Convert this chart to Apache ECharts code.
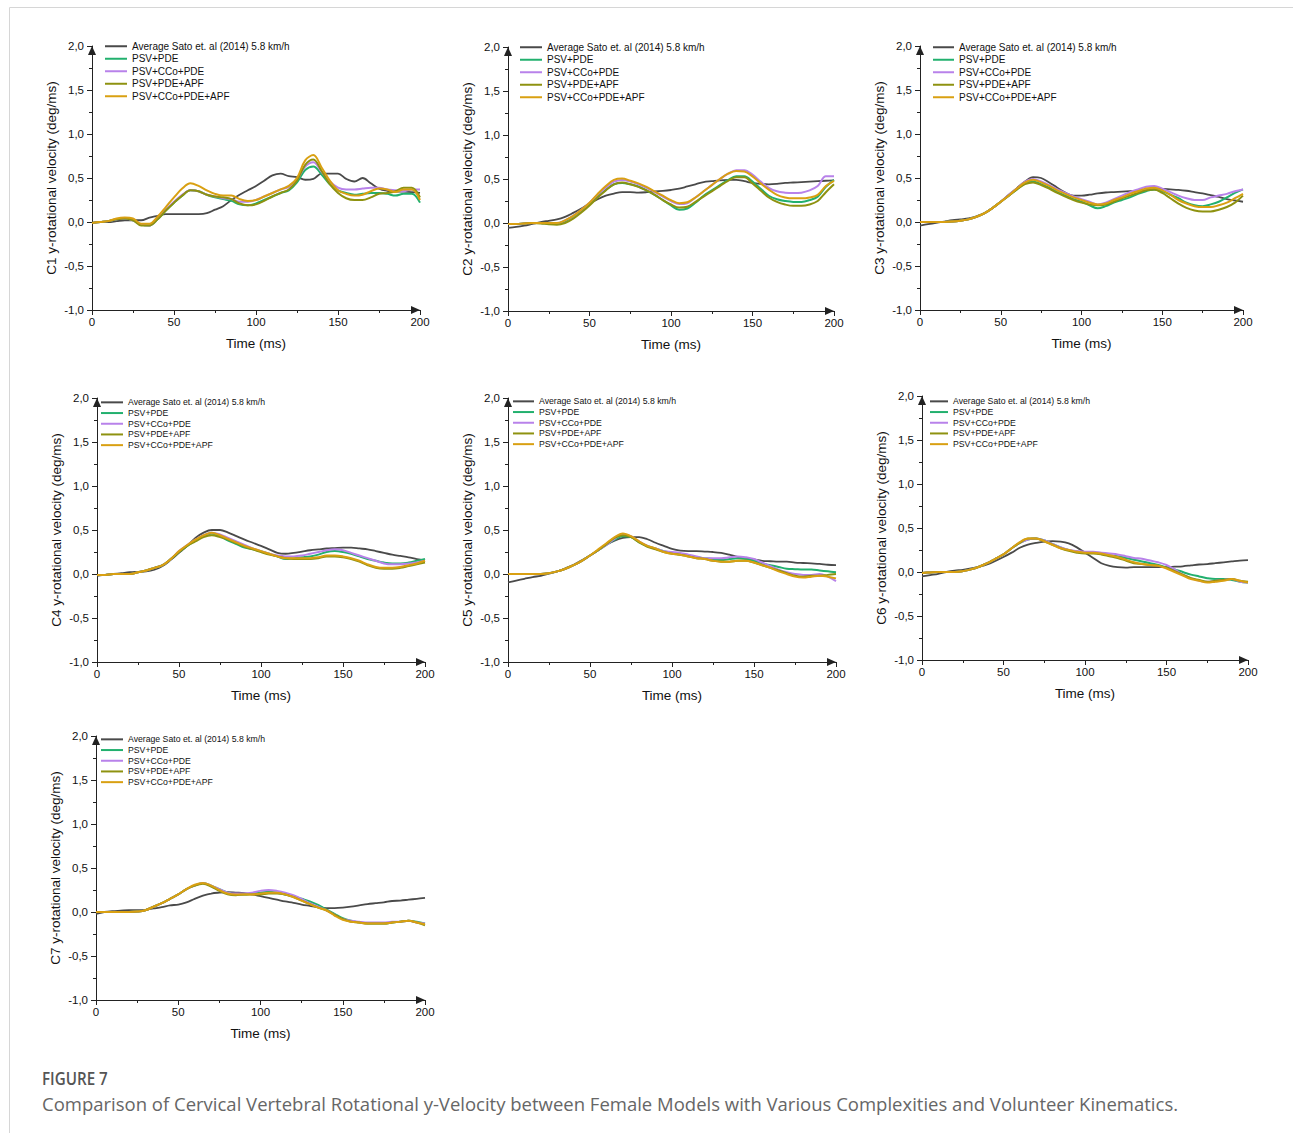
<!DOCTYPE html>
<html><head><meta charset="utf-8">
<script src="https://cdn.jsdelivr.net/npm/echarts@6/dist/echarts.min.js"></script>
<style>html,body{margin:0;padding:0;background:#fff;}#c{width:1293px;height:1133px;}</style>
</head><body><div id="c"></div>
<script>
// ---------- DATA ----------
const T = [0,5,10,15,20,25,30,35,40,45,50,55,60,65,70,75,80,85,90,95,100,105,110,115,120,125,130,135,140,145,150,155,160,165,170,175,180,185,190,195,200];
const SERIES_NAMES = ['Average Sato et. al (2014) 5.8 km/h','PSV+PDE','PSV+CCo+PDE','PSV+PDE+APF','PSV+CCo+PDE+APF'];
const PANEL_LABELS = ['C1','C2','C3','C4','C5','C6','C7'];
const X_NAME = 'Time (ms)';
const Y_NAME_SUFFIX = ' y-rotational velocity (deg/ms)';
const CAPTION_TITLE = 'FIGURE 7';
const CAPTION_TEXT = 'Comparison of Cervical Vertebral Rotational y-Velocity between Female Models with Various Complexities and Volunteer Kinematics.';

const C1_SATO = [-0.01,0.0,0.0,0.01,0.02,0.02,0.02,0.05,0.07,0.09,0.09,0.09,0.09,0.09,0.1,0.14,0.18,0.25,0.31,0.36,0.41,0.47,0.53,0.55,0.52,0.51,0.48,0.49,0.55,0.55,0.55,0.49,0.46,0.5,0.44,0.38,0.355,0.345,0.345,0.34,0.33];
const C1_PDE = [-0.01,0.0,0.01,0.03,0.04,0.02,-0.03,-0.04,0.03,0.13,0.22,0.3,0.36,0.35,0.31,0.28,0.26,0.24,0.2,0.19,0.21,0.25,0.29,0.33,0.36,0.45,0.59,0.63,0.54,0.43,0.36,0.33,0.31,0.32,0.33,0.33,0.32,0.3,0.32,0.32,0.22];
const C1_CCO_PDE = [-0.01,0.0,0.01,0.03,0.04,0.02,-0.03,-0.04,0.04,0.14,0.23,0.31,0.36,0.35,0.31,0.29,0.27,0.26,0.23,0.23,0.25,0.29,0.33,0.37,0.4,0.48,0.63,0.68,0.57,0.46,0.39,0.37,0.37,0.38,0.39,0.39,0.37,0.36,0.35,0.37,0.37];
const C1_PDE_APF = [-0.01,0.0,0.01,0.03,0.04,0.02,-0.04,-0.04,0.03,0.13,0.22,0.3,0.36,0.35,0.31,0.29,0.28,0.26,0.21,0.19,0.2,0.24,0.29,0.33,0.37,0.47,0.65,0.71,0.58,0.43,0.33,0.27,0.25,0.25,0.28,0.32,0.33,0.35,0.39,0.39,0.28];
const C1_CCO_PDE_APF = [-0.01,0.0,0.01,0.04,0.05,0.04,-0.02,-0.02,0.06,0.17,0.28,0.38,0.44,0.41,0.36,0.32,0.3,0.3,0.26,0.24,0.25,0.29,0.33,0.37,0.41,0.5,0.7,0.76,0.62,0.47,0.36,0.32,0.3,0.31,0.35,0.38,0.37,0.34,0.37,0.37,0.25];

const C2_SATO = [-0.055,-0.045,-0.03,-0.01,0.01,0.025,0.04,0.07,0.115,0.165,0.22,0.27,0.31,0.335,0.35,0.35,0.345,0.35,0.36,0.365,0.375,0.39,0.415,0.44,0.465,0.475,0.485,0.49,0.49,0.475,0.455,0.445,0.44,0.445,0.455,0.46,0.465,0.47,0.475,0.48,0.485];
const C2_PDE = [-0.01,-0.01,-0.005,0.0,0.0,-0.005,-0.005,0.02,0.075,0.14,0.22,0.3,0.375,0.44,0.455,0.44,0.415,0.37,0.32,0.26,0.2,0.15,0.165,0.23,0.31,0.37,0.43,0.49,0.53,0.53,0.47,0.39,0.31,0.27,0.25,0.24,0.24,0.26,0.3,0.41,0.49];
const C2_CCO_PDE = [-0.01,-0.01,-0.005,0.0,0.0,0.0,0.0,0.03,0.08,0.15,0.23,0.32,0.4,0.47,0.49,0.47,0.44,0.4,0.35,0.3,0.25,0.215,0.225,0.29,0.36,0.43,0.5,0.56,0.6,0.6,0.55,0.47,0.4,0.36,0.345,0.34,0.345,0.37,0.42,0.53,0.53];
const C2_PDE_APF = [-0.01,-0.01,-0.005,0.0,-0.005,-0.015,-0.02,0.0,0.05,0.12,0.2,0.29,0.37,0.44,0.46,0.44,0.41,0.37,0.32,0.26,0.21,0.175,0.185,0.24,0.3,0.36,0.42,0.48,0.52,0.52,0.45,0.37,0.29,0.24,0.21,0.195,0.195,0.21,0.25,0.35,0.44];
const C2_CCO_PDE_APF = [-0.01,-0.01,-0.005,0.0,0.0,0.0,0.0,0.03,0.08,0.15,0.23,0.33,0.42,0.49,0.505,0.48,0.45,0.41,0.36,0.31,0.26,0.225,0.235,0.29,0.36,0.43,0.5,0.56,0.59,0.585,0.53,0.45,0.38,0.32,0.29,0.28,0.28,0.29,0.32,0.42,0.48];

const C3_SATO = [-0.04,-0.025,-0.01,0.005,0.02,0.03,0.04,0.065,0.1,0.16,0.23,0.31,0.385,0.46,0.51,0.5,0.45,0.39,0.335,0.3,0.3,0.31,0.325,0.335,0.34,0.345,0.35,0.355,0.36,0.37,0.375,0.37,0.365,0.355,0.34,0.325,0.305,0.285,0.26,0.245,0.23];
const C3_PDE = [0.0,0.0,0.0,0.0,0.005,0.015,0.03,0.06,0.1,0.16,0.23,0.3,0.37,0.44,0.46,0.43,0.39,0.34,0.3,0.26,0.23,0.19,0.155,0.18,0.22,0.25,0.28,0.32,0.35,0.37,0.35,0.31,0.27,0.22,0.19,0.18,0.2,0.23,0.28,0.33,0.37];
const C3_CCO_PDE = [0.0,0.0,0.0,0.0,0.005,0.015,0.03,0.06,0.1,0.16,0.23,0.31,0.38,0.46,0.49,0.46,0.42,0.37,0.33,0.29,0.26,0.23,0.2,0.22,0.26,0.3,0.34,0.37,0.4,0.41,0.38,0.34,0.3,0.27,0.25,0.25,0.28,0.3,0.32,0.35,0.37];
const C3_PDE_APF = [0.0,0.0,0.0,0.0,0.005,0.015,0.03,0.06,0.1,0.16,0.23,0.3,0.37,0.43,0.45,0.42,0.38,0.33,0.29,0.25,0.22,0.2,0.19,0.2,0.23,0.27,0.3,0.33,0.36,0.37,0.33,0.27,0.21,0.16,0.13,0.12,0.12,0.14,0.17,0.22,0.3];
const C3_CCO_PDE_APF = [0.0,0.0,0.0,0.0,0.005,0.015,0.03,0.06,0.1,0.16,0.23,0.3,0.38,0.45,0.48,0.45,0.41,0.36,0.32,0.28,0.25,0.22,0.2,0.21,0.25,0.28,0.32,0.35,0.38,0.39,0.36,0.31,0.25,0.21,0.18,0.17,0.17,0.19,0.22,0.27,0.32];

const C4_SATO = [-0.02,-0.01,0.0,0.01,0.02,0.025,0.03,0.05,0.09,0.16,0.24,0.32,0.41,0.47,0.5,0.5,0.47,0.43,0.39,0.355,0.32,0.28,0.24,0.23,0.24,0.255,0.27,0.28,0.29,0.295,0.3,0.3,0.29,0.28,0.26,0.24,0.22,0.205,0.19,0.17,0.155];
const C4_PDE = [-0.01,-0.01,0.0,0.0,0.0,0.02,0.04,0.07,0.1,0.17,0.25,0.32,0.38,0.43,0.46,0.43,0.38,0.34,0.3,0.28,0.26,0.23,0.2,0.17,0.18,0.19,0.2,0.22,0.25,0.26,0.25,0.23,0.2,0.17,0.15,0.13,0.12,0.12,0.13,0.15,0.17];
const C4_CCO_PDE = [-0.01,-0.01,0.0,0.0,0.0,0.02,0.04,0.07,0.1,0.17,0.26,0.33,0.39,0.44,0.47,0.45,0.41,0.37,0.33,0.29,0.26,0.23,0.21,0.2,0.2,0.21,0.23,0.25,0.27,0.28,0.27,0.24,0.21,0.18,0.15,0.12,0.11,0.11,0.12,0.13,0.15];
const C4_PDE_APF = [-0.01,-0.01,0.0,0.0,0.0,0.02,0.04,0.07,0.1,0.17,0.25,0.32,0.37,0.42,0.44,0.42,0.39,0.35,0.31,0.28,0.25,0.22,0.2,0.18,0.17,0.17,0.17,0.18,0.2,0.2,0.19,0.17,0.14,0.1,0.07,0.06,0.06,0.07,0.09,0.11,0.13];
const C4_CCO_PDE_APF = [-0.01,-0.01,0.0,0.0,0.0,0.02,0.04,0.07,0.1,0.17,0.26,0.33,0.39,0.44,0.47,0.44,0.4,0.36,0.32,0.29,0.26,0.23,0.2,0.18,0.18,0.18,0.18,0.19,0.21,0.21,0.2,0.18,0.15,0.11,0.08,0.07,0.07,0.08,0.1,0.12,0.15];

const C5_SATO = [-0.095,-0.075,-0.055,-0.035,-0.02,0.005,0.03,0.065,0.105,0.155,0.21,0.27,0.335,0.38,0.41,0.42,0.42,0.395,0.355,0.32,0.285,0.265,0.26,0.26,0.255,0.25,0.24,0.22,0.195,0.18,0.165,0.15,0.145,0.14,0.14,0.13,0.125,0.12,0.115,0.105,0.1];
const C5_PDE = [0.0,0.0,0.0,0.0,0.0,0.01,0.03,0.06,0.1,0.15,0.21,0.27,0.33,0.39,0.43,0.42,0.36,0.32,0.29,0.26,0.24,0.22,0.21,0.19,0.18,0.17,0.16,0.17,0.18,0.17,0.15,0.12,0.1,0.08,0.06,0.055,0.05,0.05,0.04,0.03,0.02];
const C5_CCO_PDE = [0.0,0.0,0.0,0.0,0.0,0.01,0.03,0.06,0.1,0.15,0.21,0.27,0.33,0.4,0.45,0.43,0.37,0.32,0.29,0.26,0.25,0.24,0.22,0.2,0.18,0.18,0.18,0.19,0.2,0.19,0.17,0.13,0.09,0.05,0.02,0.0,-0.01,-0.01,0.0,-0.03,-0.08];
const C5_PDE_APF = [0.0,0.0,0.0,0.0,0.0,0.01,0.03,0.06,0.1,0.15,0.21,0.27,0.34,0.41,0.44,0.42,0.36,0.31,0.28,0.25,0.23,0.22,0.2,0.18,0.17,0.15,0.14,0.14,0.15,0.15,0.13,0.1,0.07,0.04,0.01,-0.02,-0.03,-0.02,-0.02,-0.01,0.0];
const C5_CCO_PDE_APF = [0.0,0.0,0.0,0.0,0.0,0.01,0.03,0.06,0.1,0.15,0.21,0.28,0.35,0.42,0.46,0.43,0.37,0.32,0.29,0.25,0.23,0.22,0.2,0.18,0.17,0.15,0.14,0.14,0.15,0.15,0.13,0.1,0.07,0.03,0.0,-0.03,-0.04,-0.03,-0.02,-0.03,-0.05];

const C6_SATO = [-0.05,-0.035,-0.02,0.0,0.015,0.025,0.04,0.06,0.085,0.125,0.17,0.22,0.275,0.31,0.33,0.345,0.35,0.345,0.325,0.28,0.22,0.16,0.1,0.07,0.055,0.05,0.055,0.055,0.055,0.055,0.055,0.06,0.065,0.075,0.085,0.09,0.1,0.11,0.12,0.13,0.135];
const C6_PDE = [-0.01,-0.005,0.0,0.0,0.0,0.01,0.03,0.06,0.1,0.15,0.2,0.27,0.33,0.37,0.38,0.36,0.32,0.28,0.25,0.23,0.22,0.22,0.21,0.19,0.18,0.16,0.14,0.12,0.1,0.08,0.05,0.03,0.0,-0.03,-0.05,-0.07,-0.08,-0.08,-0.09,-0.11,-0.12];
const C6_CCO_PDE = [-0.01,-0.005,0.0,0.0,0.0,0.01,0.03,0.06,0.1,0.15,0.2,0.27,0.33,0.37,0.38,0.36,0.32,0.28,0.25,0.24,0.23,0.23,0.22,0.21,0.2,0.18,0.16,0.15,0.13,0.11,0.08,0.03,-0.03,-0.07,-0.1,-0.11,-0.1,-0.09,-0.08,-0.11,-0.12];
const C6_PDE_APF = [-0.01,-0.005,0.0,0.0,0.0,0.01,0.03,0.06,0.1,0.15,0.2,0.27,0.33,0.38,0.38,0.35,0.31,0.27,0.24,0.22,0.21,0.21,0.2,0.18,0.16,0.13,0.1,0.09,0.08,0.07,0.05,0.01,-0.03,-0.07,-0.09,-0.11,-0.1,-0.09,-0.08,-0.1,-0.11];
const C6_CCO_PDE_APF = [-0.01,-0.005,0.0,0.0,0.0,0.01,0.03,0.06,0.1,0.15,0.2,0.27,0.34,0.38,0.38,0.35,0.31,0.27,0.25,0.23,0.22,0.22,0.21,0.19,0.17,0.14,0.11,0.09,0.08,0.07,0.04,0.0,-0.04,-0.08,-0.1,-0.12,-0.11,-0.1,-0.08,-0.1,-0.12];

const C7_SATO = [-0.02,0.0,0.01,0.015,0.02,0.02,0.025,0.04,0.055,0.075,0.085,0.11,0.15,0.185,0.21,0.22,0.225,0.22,0.215,0.2,0.18,0.16,0.14,0.12,0.105,0.085,0.07,0.055,0.045,0.045,0.05,0.06,0.075,0.09,0.1,0.11,0.125,0.13,0.14,0.15,0.16];
const C7_PDE = [0.0,0.0,0.0,0.0,0.0,0.005,0.02,0.06,0.1,0.15,0.2,0.26,0.3,0.33,0.3,0.26,0.22,0.2,0.2,0.21,0.22,0.23,0.22,0.2,0.18,0.15,0.12,0.08,0.03,-0.02,-0.07,-0.1,-0.12,-0.13,-0.13,-0.13,-0.12,-0.11,-0.1,-0.11,-0.13];
const C7_CCO_PDE = [0.0,0.0,0.0,0.0,0.0,0.005,0.02,0.06,0.1,0.15,0.2,0.26,0.3,0.33,0.3,0.26,0.22,0.21,0.21,0.22,0.24,0.25,0.24,0.22,0.19,0.15,0.1,0.06,0.02,-0.03,-0.08,-0.1,-0.11,-0.12,-0.12,-0.12,-0.11,-0.11,-0.1,-0.12,-0.13];
const C7_PDE_APF = [0.0,0.0,0.0,0.0,0.0,0.005,0.02,0.06,0.1,0.15,0.2,0.26,0.3,0.32,0.29,0.24,0.2,0.19,0.2,0.2,0.2,0.21,0.21,0.2,0.17,0.13,0.09,0.05,0.02,-0.03,-0.08,-0.11,-0.12,-0.13,-0.13,-0.13,-0.12,-0.11,-0.1,-0.12,-0.15];
const C7_CCO_PDE_APF = [0.0,0.0,0.0,0.0,0.0,0.005,0.02,0.06,0.1,0.15,0.2,0.26,0.31,0.33,0.3,0.25,0.21,0.2,0.2,0.2,0.21,0.22,0.22,0.2,0.17,0.13,0.09,0.05,0.02,-0.04,-0.09,-0.11,-0.12,-0.13,-0.13,-0.13,-0.12,-0.11,-0.1,-0.12,-0.14];

const PANEL_DATA = [
  [C1_SATO,C1_PDE,C1_CCO_PDE,C1_PDE_APF,C1_CCO_PDE_APF],
  [C2_SATO,C2_PDE,C2_CCO_PDE,C2_PDE_APF,C2_CCO_PDE_APF],
  [C3_SATO,C3_PDE,C3_CCO_PDE,C3_PDE_APF,C3_CCO_PDE_APF],
  [C4_SATO,C4_PDE,C4_CCO_PDE,C4_PDE_APF,C4_CCO_PDE_APF],
  [C5_SATO,C5_PDE,C5_CCO_PDE,C5_PDE_APF,C5_CCO_PDE_APF],
  [C6_SATO,C6_PDE,C6_CCO_PDE,C6_PDE_APF,C6_CCO_PDE_APF],
  [C7_SATO,C7_PDE,C7_CCO_PDE,C7_PDE_APF,C7_CCO_PDE_APF]
];

// ---------- STYLE / LAYOUT ----------
const COLORS = ['#4a4a4a','#22b06e','#b882ea','#8e9210','#d9a012'];
const WIDTHS = [1.8,2,2,2,2];
const FONT = '"Liberation Sans", Arial, sans-serif';
const INK = '#111';
const LAYOUT = [
  {left:92,  top:46,  w:328, lgLeft:105, lgTop:40,  lf:10,  lh:12.5, lw:22},
  {left:508, top:47,  w:326, lgLeft:520, lgTop:41,  lf:10,  lh:12.5, lw:22},
  {left:920, top:46,  w:323, lgLeft:933, lgTop:41,  lf:10,  lh:12.5, lw:21},
  {left:97,  top:398, w:328, lgLeft:101, lgTop:397, lf:8.7, lh:10.7, lw:22},
  {left:508, top:398, w:328, lgLeft:513, lgTop:396, lf:8.7, lh:10.7, lw:21},
  {left:922, top:396, w:326, lgLeft:930, lgTop:396, lf:8.7, lh:10.7, lw:18},
  {left:96,  top:736, w:329, lgLeft:101, lgTop:734, lf:8.7, lh:10.7, lw:22}
];
const PLOT_H = 264;

const grid=[], xAxis=[], yAxis=[], series=[], legend=[];
PANEL_DATA.forEach((vals,i)=>{
  const L = LAYOUT[i];
  grid.push({left:L.left, top:L.top, width:L.w, height:PLOT_H});
  const axisLineBase = {onZero:false, symbol:['none','triangle'], symbolSize:[8,9], symbolOffset:[0,-4.5], lineStyle:{color:'#222', width:1}};
  xAxis.push({
    type:'value', gridIndex:i, min:0, max:200, interval:50,
    name:X_NAME, nameLocation:'middle', nameGap:26,
    nameTextStyle:{fontFamily:FONT, fontSize:13.5, color:INK},
    axisLine:axisLineBase,
    axisTick:{show:true, length:5, lineStyle:{color:'#222'}},
    minorTick:{show:true, splitNumber:2, length:3, lineStyle:{color:'#222'}},
    splitLine:{show:false}, minorSplitLine:{show:false},
    axisLabel:{fontFamily:FONT, fontSize:11.5, color:INK, margin:6}
  });
  yAxis.push({
    type:'value', gridIndex:i, min:-1, max:2, interval:0.5,
    name:PANEL_LABELS[i]+Y_NAME_SUFFIX, nameLocation:'middle', nameGap:34, nameRotate:90,
    nameTextStyle:{fontFamily:FONT, fontSize:13.5, color:INK},
    axisLine:axisLineBase,
    axisTick:{show:true, length:5, lineStyle:{color:'#222'}},
    minorTick:{show:true, splitNumber:2, length:3, lineStyle:{color:'#222'}},
    splitLine:{show:false}, minorSplitLine:{show:false},
    axisLabel:{fontFamily:FONT, fontSize:11.5, color:INK, margin:8,
      formatter:v=>v.toFixed(1).replace('.',',')}
  });
  vals.forEach((v,k)=>{
    series.push({
      type:'line', name:SERIES_NAMES[k], xAxisIndex:i, yAxisIndex:i,
      data:T.map((t,j)=>[t,v[j]]), showSymbol:false, symbol:'none', smooth:0.35,
      lineStyle:{width:WIDTHS[k], color:COLORS[k]}, itemStyle:{color:COLORS[k]},
      emphasis:{disabled:true}, z:2+k
    });
  });
  legend.push({
    left:L.lgLeft, top:L.lgTop, orient:'vertical', icon:'rect',
    itemWidth:L.lw, itemHeight:2, itemGap:0, padding:0, selectedMode:false,
    data:SERIES_NAMES,
    textStyle:{fontFamily:FONT, fontSize:L.lf, lineHeight:L.lh, color:INK}
  });
});

const chart = echarts.init(document.getElementById('c'), null, {renderer:'svg'});
chart.setOption({
  backgroundColor:'#ffffff',
  animation:false,
  grid, xAxis, yAxis, series, legend,
  graphic:[
    {type:'line', shape:{x1:9.5,y1:7.5,x2:1293,y2:7.5}, style:{stroke:'#d6d6d6', lineWidth:1}, silent:true},
    {type:'line', shape:{x1:9.5,y1:7.5,x2:9.5,y2:1133}, style:{stroke:'#d6d6d6', lineWidth:1}, silent:true},
    {type:'text', x:42, y:1078, scaleX:0.82, originX:0, originY:0,
      style:{text:CAPTION_TITLE, fontFamily:'"Open Sans", sans-serif', fontWeight:600, fontSize:18.5, fill:'#555', verticalAlign:'middle', align:'left'}},
    {type:'text', x:42, y:1103,
      style:{text:CAPTION_TEXT, fontFamily:'"Open Sans", sans-serif', fontSize:18.5, fill:'#666', verticalAlign:'middle', align:'left'}}
  ]
});
</script></body></html>
